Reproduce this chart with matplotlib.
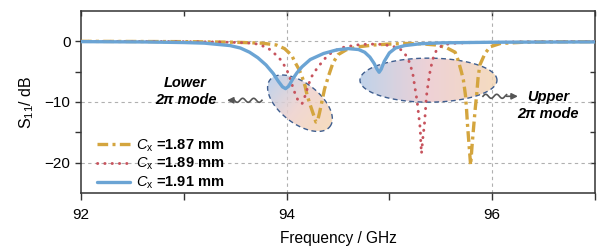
import numpy as np
import matplotlib
matplotlib.use("Agg")
import matplotlib.pyplot as plt
from matplotlib.colors import LinearSegmentedColormap
from matplotlib.patches import Polygon

plt.rcParams['font.family'] = ['Liberation Sans', 'DejaVu Sans']
plt.rcParams['mathtext.fontset'] = 'custom'
plt.rcParams['mathtext.rm'] = 'Liberation Sans'
plt.rcParams['mathtext.it'] = 'Liberation Sans:italic'
plt.rcParams['mathtext.bf'] = 'Liberation Sans:bold'
plt.rcParams['mathtext.default'] = 'regular'

# ---------------- data ----------------
f_187 = [92.0, 93.0, 93.5, 93.76, 93.9, 93.98, 94.05, 94.08, 94.12, 94.15, 94.18, 94.2, 94.23,
         94.26, 94.285, 94.3, 94.32, 94.34, 94.37, 94.41, 94.45, 94.5, 94.58, 94.7, 94.85, 95.0,
         95.15, 95.3, 95.45, 95.55, 95.64, 95.67, 95.7, 95.72, 95.74, 95.75, 95.76, 95.77, 95.78,
         95.79, 95.805, 95.82, 95.835, 95.85, 95.862, 95.88, 95.93, 95.98, 96.08, 96.3, 96.6, 97.0]
s_187 = [0.0, -0.05, -0.15, -0.3, -0.6, -1.2, -2.3, -3.4, -4.6, -5.8, -7.4, -8.9, -10.5,
         -12.0, -13.3, -13.2, -11.8, -10.2, -7.8, -5.6, -3.6, -2.2, -1.4, -0.9, -0.6, -0.45,
         -0.35, -0.4, -0.6, -1.0, -1.8, -3.2, -5.0, -6.4, -8.9, -11.1, -13.8, -16.0, -18.2,
         -20.4, -17.0, -14.0, -11.1, -8.6, -6.1, -3.9, -2.0, -0.9, -0.35, -0.15, -0.08, -0.05]

f_189 = [92.0, 92.8, 93.3, 93.55, 93.69, 93.81, 93.87, 93.94, 93.99, 94.02, 94.05, 94.08, 94.11,
         94.15, 94.18, 94.21, 94.24, 94.29, 94.34, 94.39, 94.45, 94.55, 94.68, 94.8, 94.92, 95.02,
         95.1, 95.15, 95.2, 95.23, 95.25, 95.27, 95.285, 95.3, 95.305, 95.312, 95.325, 95.34,
         95.35, 95.36, 95.38, 95.4, 95.43, 95.46, 95.52, 95.6, 95.8, 96.2, 96.6, 97.0]
s_189 = [0.0, -0.03, -0.1, -0.2, -0.35, -1.0, -1.8, -3.0, -4.3, -5.4, -7.0, -8.5, -9.7,
         -10.3, -9.0, -7.3, -5.9, -4.6, -3.5, -2.5, -1.7, -1.0, -0.6, -0.45, -0.5, -0.75,
         -1.2, -2.0, -3.6, -5.6, -7.8, -9.9, -12.2, -14.4, -16.5, -18.5, -16.0, -13.8,
         -11.6, -9.1, -6.6, -4.5, -2.5, -1.4, -0.6, -0.35, -0.2, -0.1, -0.05, -0.03]

f_191 = [92.0, 92.6, 93.0, 93.2, 93.45, 93.55, 93.64, 93.72, 93.8, 93.87, 93.92, 93.96, 93.99,
         94.02, 94.06, 94.1, 94.15, 94.23, 94.36, 94.49, 94.6, 94.7, 94.76, 94.81, 94.85, 94.88,
         94.9, 94.92, 94.95, 95.0, 95.06, 95.15, 95.3, 95.5, 96.0, 96.5, 97.0]
s_191 = [-0.05, -0.1, -0.2, -0.3, -0.7, -1.1, -1.8, -2.7, -3.9, -5.3, -6.6, -7.5, -7.8,
         -7.4, -6.2, -5.2, -4.2, -3.0, -2.0, -1.4, -1.2, -1.35, -1.8, -2.6, -3.6, -4.6,
         -5.1, -4.6, -3.3, -1.9, -1.1, -0.7, -0.4, -0.25, -0.15, -0.12, -0.1]

labels = [r'$\mathit{C}_{\mathrm{x}}$ =1.87 mm', r'$\mathit{C}_{\mathrm{x}}$ =1.89 mm',
          r'$\mathit{C}_{\mathrm{x}}$ =1.91 mm']
x_ticks = [92, 94, 96]
y_ticks = [0, -10, -20]

# ---------------- figure ----------------
W, H = 608, 248
fig = plt.figure(figsize=(W / 100, H / 100), dpi=100)
ax_l, ax_b, ax_w, ax_h = 81, 55, 514, 182
ax = fig.add_axes([ax_l / W, ax_b / H, ax_w / W, ax_h / H])
xlim = (92, 97)
ylim = (-25, 5)
sx = ax_w / (xlim[1] - xlim[0])
sy = ax_h / (ylim[1] - ylim[0])

gold = '#d4a53e'
red = '#c7535d'
blue = '#6ba4d4'

# grid
for xv in [94, 96]:
    ax.axvline(xv, color='#b0b0b0', lw=0.8, ls=(0, (3, 3)), zorder=0.5)
for yv in y_ticks:
    ax.axhline(yv, color='#b0b0b0', lw=0.8, ls=(0, (3, 3)), zorder=0.5)


def ellipse(cx, cy, a, b, ang, colors, alpha=0.85):
    th = np.deg2rad(ang)
    t = np.linspace(0, 2 * np.pi, 300)
    ex, ey = a * np.cos(t), b * np.sin(t)
    px = ex * np.cos(th) - ey * np.sin(th)
    py = ex * np.sin(th) + ey * np.cos(th)
    xy = np.column_stack([cx + px / sx, cy + py / sy])
    poly = Polygon(xy, closed=True, facecolor='none', edgecolor='none', zorder=1)
    ax.add_patch(poly)
    x0, x1 = xy[:, 0].min(), xy[:, 0].max()
    y0, y1 = xy[:, 1].min(), xy[:, 1].max()
    gx, gy = np.meshgrid(np.linspace(x0, x1, 200), np.linspace(y0, y1, 200))
    p = ((gx - cx) * sx * np.cos(th) + (gy - cy) * sy * np.sin(th)) / a
    T = np.clip((p + 1) / 2, 0, 1)
    cmap = LinearSegmentedColormap.from_list('g', colors)
    im = ax.imshow(T, extent=[x0, x1, y0, y1], origin='lower', cmap=cmap, vmin=0, vmax=1,
                   aspect='auto', alpha=alpha, zorder=1, interpolation='bilinear')
    im.set_clip_path(poly)
    edge = Polygon(xy, closed=True, facecolor='none', edgecolor='#3f5e8f', lw=1.0,
                   ls=(0, (3.5, 2.5)), zorder=1.5)
    ax.add_patch(edge)


ellipse(94.13, -10.2, 38, 20, -38, ['#b7cce8', '#eed0cc', '#f5d6b4'])
ellipse(95.38, -6.4, 68.5, 22, 0, ['#b5cbe6', '#ebc9cf', '#f3d6b4'])

# curves
ax.plot(f_187, s_187, color=gold, lw=2.4, ls=(0, (3.2, 1.3, 0.9, 1.3)), label=labels[0], zorder=3)
ax.plot(f_189, s_189, color=red, lw=2.1, ls=(0, (0.1, 2.4)), dash_capstyle='round',
        label=labels[1], zorder=3.2)
ax.plot(f_191, s_191, color=blue, lw=2.4, label=labels[2], zorder=3.4, solid_capstyle='round')


def wavy(xs, xe, xh, y, amp=2.0, period=11.0):
    xx = np.linspace(xs, xe, 80)
    yy = y + amp / sy * np.sin(2 * np.pi * (xx - xs) * sx / period)
    ax.plot(xx, yy, color='#555555', lw=1.2, zorder=4)
    ax.annotate('', xy=(xh, y), xytext=(xe, y),
                arrowprops=dict(arrowstyle='-|>', color='#555555', lw=1.2, mutation_scale=9,
                                shrinkA=0, shrinkB=0), zorder=4)


wavy(93.76, 93.49, 93.42, -9.72)
wavy(95.91, 96.14, 96.25, -9.06)

tkw = dict(fontsize=10.5, fontweight='bold', fontstyle='italic', ha='center', va='center', zorder=5)
ax.text(93.01, -6.8, 'Lower', **tkw)
ax.text(93.02, -9.75, '2π mode', **tkw)
ax.text(96.545, -9.1, 'Upper', **tkw)
ax.text(96.54, -11.9, '2π mode', **tkw)

ax.set_xlim(*xlim)
ax.set_ylim(*ylim)
ax.set_xticks(x_ticks)
ax.set_xticks([93, 95, 97], minor=True)
ax.set_yticks(y_ticks)
ax.set_yticks([-5, -15], minor=True)
ax.tick_params(which='both', direction='out', length=4.5, width=1.0, labelsize=11, pad=3,
               color='#333333')
ax.tick_params(axis='x', which='both', length=5, pad=6)
for s in ax.spines.values():
    s.set_linewidth(1.1)
    s.set_color('#333333')

secx = ax.secondary_xaxis('top')
secx.set_xticks([92, 93, 94, 95, 96, 97])
secx.tick_params(direction='in', length=3.5, width=1.0, labeltop=False, color='#333333')
secx.spines['top'].set_visible(False)
secy = ax.secondary_yaxis('right')
secy.set_yticks([0, -5, -10, -15, -20])
secy.tick_params(direction='in', length=3.5, width=1.0, labelright=False, color='#333333')
secy.spines['right'].set_visible(False)

ax.set_xlabel('Frequency / GHz', fontsize=11.2, labelpad=6)
ax.set_ylabel(r'S$_{11}$/ dB', fontsize=11.5, labelpad=6)

leg = ax.legend(loc='upper left', bbox_to_anchor=(0.031, 0.305), frameon=False,
                prop=dict(weight='bold', size=10.5), handlelength=2.3, handletextpad=0.4,
                labelspacing=0.15, borderpad=0, borderaxespad=0)

fig.savefig('out.png', dpi=100)
